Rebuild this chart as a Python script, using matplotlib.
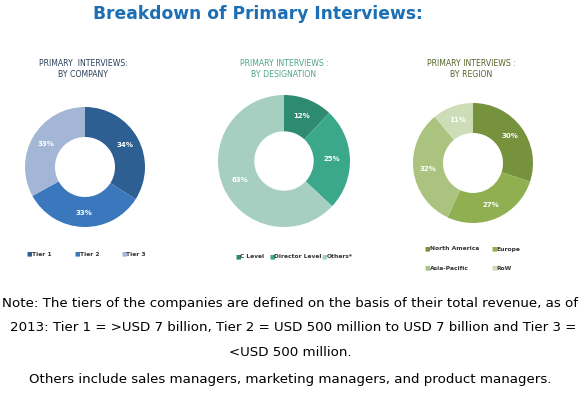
import matplotlib
matplotlib.use("Agg")
import matplotlib.pyplot as plt
import math

W, H = 586, 395

# Data
company_labels = ["Tier 1", "Tier 2", "Tier 3"]
company_values = [34, 33, 33]
designation_labels = ["C Level", "Director Level", "Others*"]
designation_values = [12, 25, 63]
region_labels = ["North America", "Europe", "Asia-Pacific", "RoW"]
region_values = [30, 27, 32, 11]

company_colors = ["#2D5F93", "#3A77BC", "#A4B6D5"]
designation_colors = ["#2E8A70", "#3BA78B", "#A7CFC1"]
region_colors = ["#77923D", "#8FAF50", "#AAC47F", "#CCDDB7"]

fig = plt.figure(figsize=(W / 100, H / 100), dpi=100)
fig.patch.set_facecolor("white")


def fx(x):
    return x / W


def fy(y):
    return 1 - y / H


def donut(cx, cy, R, values, colors, width, pctd):
    ax = fig.add_axes([fx(cx - R), fy(cy + R), 2 * R / W, 2 * R / H])
    ax.pie(values, colors=colors, startangle=90, counterclock=False,
           radius=1, wedgeprops=dict(width=width, edgecolor="none"))
    total = sum(values)
    ang = 90.0
    for v in values:
        a = ang - 360 * v / total / 2
        ax.text(pctd * math.cos(math.radians(a)), pctd * math.sin(math.radians(a)),
                f"{v}%", color="white", fontsize=5.0, fontweight="bold",
                ha="center", va="center")
        ang -= 360 * v / total
    ax.set_xlim(-1, 1)
    ax.set_ylim(-1, 1)
    ax.set_aspect("equal")
    ax.axis("off")
    return ax


donut(85, 167, 60, company_values, company_colors, 0.5, 0.76)
donut(284, 161, 66, designation_values, designation_colors, 0.55, 0.73)
donut(473, 163, 60, region_values, region_colors, 0.5, 0.76)

# Main title
fig.text(fx(258), fy(14), "Breakdown of Primary Interviews:", fontsize=12.3,
         fontweight="bold", color="#1C6EB5", ha="center", va="center")

# Chart titles
titles = [(83, "PRIMARY  INTERVIEWS:\nBY COMPANY", "#2B3F5C"),
          (284, "PRIMARY INTERVIEWS :\nBY DESIGNATION", "#4BA58C"),
          (471, "PRIMARY INTERVIEWS :\nBY REGION", "#55652A")]
for x, t, c in titles:
    fig.text(fx(x), fy(69), t, fontsize=5.6, color=c, ha="center", va="center",
             linespacing=1.25)


def legend_item(x, y, color, label):
    fig.text(fx(x), fy(y), "■", fontsize=4.2, color=color, ha="center", va="center")
    fig.text(fx(x + 2.5), fy(y), label, fontsize=4.3, color="#333333", ha="left",
             va="center", fontweight="bold")


for x, c, l in zip([29, 77, 124], company_colors, company_labels):
    legend_item(x, 254, c, l)
for x, c, l in zip([238, 272, 324], designation_colors, designation_labels):
    legend_item(x, 257, c, l)
for (x, y), c, l in zip([(427, 249), (494, 249), (427, 268), (494, 268)],
                        region_colors, region_labels):
    legend_item(x, y, c, l)

# Notes
notes = [
    (290, 303, "Note: The tiers of the companies are defined on the basis of their total revenue, as of"),
    (293, 328, "2013: Tier 1 = >USD 7 billion, Tier 2 = USD 500 million to USD 7 billion and Tier 3 ="),
    (290, 353, "<USD 500 million."),
    (290, 379, "Others include sales managers, marketing managers, and product managers."),
]
for x, y, t in notes:
    fig.text(fx(x), fy(y), t, fontsize=9.6, color="black", ha="center", va="center")

fig.savefig("out.png", dpi=100, facecolor="white")
